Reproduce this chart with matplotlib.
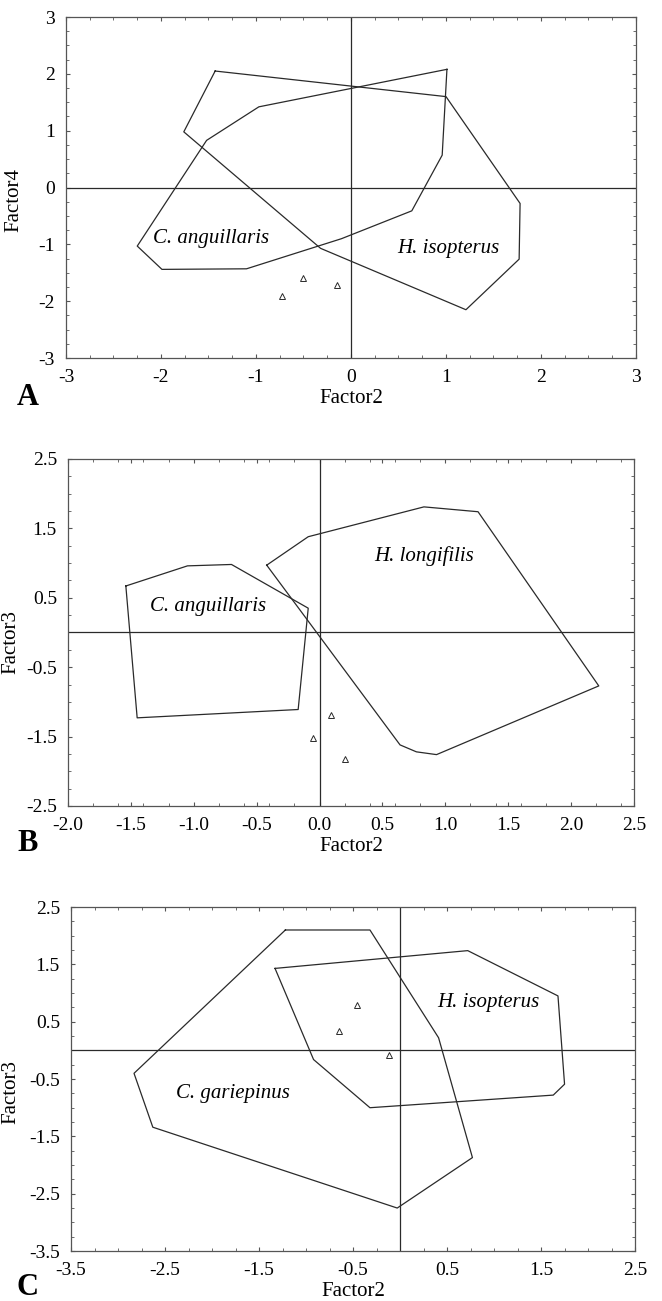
import numpy as np
import matplotlib
matplotlib.use('Agg')
import matplotlib.pyplot as plt
from matplotlib.ticker import MultipleLocator, FormatStrFormatter

plt.rcParams['font.family'] = 'Liberation Serif'
plt.rcParams['axes.unicode_minus'] = False

# panel A: Factor2 vs Factor4
a_cang_x = [1.01, -0.97, -1.52, -2.25, -1.99, -1.10, -0.10, 0.64, 0.96]
a_cang_y = [2.08, 1.42, 0.83, -1.03, -1.44, -1.43, -0.90, -0.41, 0.57]
a_hiso_x = [-1.43, 1.00, 1.78, 1.77, 1.21, -0.32, -1.76]
a_hiso_y = [2.05, 1.60, -0.28, -1.26, -2.15, -1.07, 0.98]
a_pts_x = [-0.73, -0.51, -0.15]
a_pts_y = [-1.90, -1.60, -1.71]

# panel B: Factor2 vs Factor3
b_cang_x = [-1.54, -1.05, -0.70, -0.09, -0.17, -1.45]
b_cang_y = [0.67, 0.96, 0.98, 0.35, -1.11, -1.23]
b_hlon_x = [-0.42, -0.09, 0.83, 1.26, 2.22, 0.93, 0.77, 0.64]
b_hlon_y = [0.97, 1.38, 1.81, 1.74, -0.77, -1.76, -1.72, -1.62]
b_pts_x = [0.09, -0.05, 0.20]
b_pts_y = [-1.19, -1.52, -1.83]

# panel C: Factor2 vs Factor3
c_cgar_x = [-1.22, -0.32, 0.41, 0.77, -0.03, -2.63, -2.83]
c_cgar_y = [2.10, 2.10, 0.22, -1.87, -2.75, -1.34, -0.40]
c_hiso_x = [-1.33, 0.72, 1.68, 1.75, 1.63, -0.32, -0.92]
c_hiso_y = [1.43, 1.74, 0.95, -0.59, -0.78, -1.00, -0.16]
c_pts_x = [-0.46, -0.65, -0.12]
c_pts_y = [0.80, 0.34, -0.08]

line_col = '#2a2a2a'


def panel(ax, polys, pts_x, pts_y, labels, xlim, ylim, xticks, yticks,
          xminor, yminor, fmt, ylabel):
    for px, py in polys:
        ax.plot(px + px[:1], py + py[:1], color=line_col, lw=0.9)
    ax.plot(pts_x, pts_y, '^', ms=4, mfc='none', mec=line_col, mew=0.7)
    ax.axhline(0, color=line_col, lw=0.9)
    ax.axvline(0, color=line_col, lw=0.9)
    for txt, x, y in labels:
        ax.text(x, y, txt, style='italic', fontsize=15, ha='center', va='center')
    ax.set_xlim(xlim)
    ax.set_ylim(ylim)
    ax.set_xticks(xticks)
    ax.set_yticks(yticks)
    ax.xaxis.set_minor_locator(MultipleLocator(xminor))
    ax.yaxis.set_minor_locator(MultipleLocator(yminor))
    ax.xaxis.set_major_formatter(FormatStrFormatter(fmt))
    ax.yaxis.set_major_formatter(FormatStrFormatter(fmt))
    ax.tick_params(which='both', direction='in', top=True, right=True,
                   color='#555555', labelsize=14, pad=8)
    ax.tick_params(which='major', length=3, width=0.8)
    ax.tick_params(which='minor', length=2, width=0.6)
    for s in ax.spines.values():
        s.set_color('#555555')
        s.set_linewidth(0.9)
    ax.set_xlabel('Factor2', fontsize=15, labelpad=2)
    ax.set_ylabel(ylabel, fontsize=15)


fig = plt.figure(figsize=(6.62, 13.01), dpi=100)

axA = fig.add_axes([0.0997, 0.7248, 0.861, 0.2621])
panel(axA, [(a_cang_x, a_cang_y), (a_hiso_x, a_hiso_y)], a_pts_x, a_pts_y,
      [('C. anguillaris', -1.47, -0.89), ('H. isopterus', 1.03, -1.07)],
      (-3, 3), (-3, 3), np.arange(-3, 4, 1), np.arange(-3, 4, 1),
      0.25, 0.25, '%d', 'Factor4')
axA.yaxis.set_label_coords(-0.075, 0.463)

axB = fig.add_axes([0.1027, 0.3805, 0.855, 0.2667])
panel(axB, [(b_cang_x, b_cang_y), (b_hlon_x, b_hlon_y)], b_pts_x, b_pts_y,
      [('C. anguillaris', -0.89, 0.38), ('H. longifilis', 0.83, 1.10)],
      (-2.0, 2.5), (-2.5, 2.5), np.arange(-2.0, 2.51, 0.5), np.arange(-2.5, 2.51, 1.0),
      0.2, 0.25, '%.1f', 'Factor3')
axB.yaxis.set_label_coords(-0.085, 0.473)

axC = fig.add_axes([0.1073, 0.0384, 0.852, 0.2644])
panel(axC, [(c_cgar_x, c_cgar_y), (c_hiso_x, c_hiso_y)], c_pts_x, c_pts_y,
      [('C. gariepinus', -1.78, -0.76), ('H. isopterus', 0.94, 0.84)],
      (-3.5, 2.5), (-3.5, 2.5), np.arange(-3.5, 2.51, 1.0), np.arange(-3.5, 2.51, 1.0),
      0.25, 0.25, '%.1f', 'Factor3')
axC.yaxis.set_label_coords(-0.090, 0.462)

for letter, ybase in [('A', 405), ('B', 851), ('C', 1295)]:
    fig.text(17 / 662, 1 - ybase / 1301, letter, fontsize=22, fontweight='bold',
             ha='left', va='baseline')

fig.savefig('out.png', dpi=100)
